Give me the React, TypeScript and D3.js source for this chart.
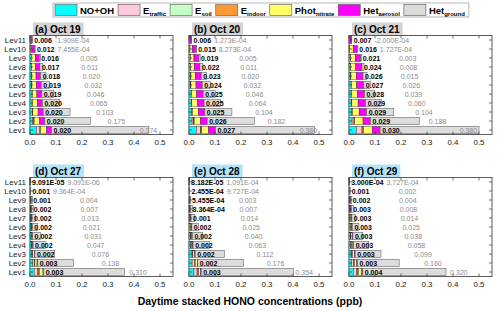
import React, { useRef, useEffect } from 'react'
import * as d3 from 'd3'

// levels, bottom (Lev1) to top (Lev11)
const levels = ['Lev1', 'Lev2', 'Lev3', 'Lev4', 'Lev5', 'Lev6', 'Lev7', 'Lev8', 'Lev9', 'Lev10', 'Lev11']
const panelTitles = ['(a) Oct 19', '(b) Oct 20', '(c) Oct 21', '(d) Oct 27', '(e) Oct 28', '(f)  Oct 29']
const xTicks = [0, 0.1, 0.2, 0.3, 0.4, 0.5]

const keys = ['noOh', 'eTraffic', 'eSoil', 'eIndoor', 'photNitrate', 'hetAerosol', 'hetGround']
const colors = ['#00ffff', '#ffc8dc', '#c4ffc4', '#ff9933', '#ffff66', '#ff00ff', '#dcdcdc']

// one row per panel, Lev1..Lev11
const noOh = [
  [0.024, 0.010, 0.009, 0.008, 0.008, 0.007, 0.007, 0.006, 0.006, 0.002, 0.001],
  [0.028, 0.012, 0.010, 0.009, 0.008, 0.007, 0.007, 0.006, 0.005, 0.004, 0.001],
  [0.028, 0.012, 0.010, 0.009, 0.008, 0.008, 0.007, 0.006, 0.006, 0.003, 0.001],
  [0.016, 0.010, 0.007, 0.005, 0.004, 0.004, 0.0035, 0.003, 0.0025, 0.0007, 0.0001],
  [0.019, 0.012, 0.009, 0.007, 0.006, 0.005, 0.004, 0.003, 0.002, 0.0007, 0.0002],
  [0.017, 0.010, 0.008, 0.007, 0.006, 0.005, 0.004, 0.0035, 0.003, 0.001, 0.0002]
]
const eTraffic = [
  [0.014, 0.004, 0.001, 0.0005, 0.0003, 0.0002, 0.0001, 0.0001, 0, 0, 0],
  [0.017, 0.006, 0.002, 0.001, 0.0005, 0.0003, 0.0002, 0.0001, 0.0001, 0, 0],
  [0.022, 0.007, 0.002, 0.001, 0.0005, 0.0003, 0.0002, 0.0001, 0.0001, 0, 0],
  [0.014, 0.006, 0.002, 0.001, 0.0005, 0.0003, 0.0002, 0.0001, 0.0001, 0, 0],
  [0.012, 0.008, 0.004, 0.001, 0.0005, 0.0003, 0.0002, 0.0001, 0.0001, 0, 0],
  [0.013, 0.007, 0.003, 0.001, 0.0005, 0.0003, 0.0002, 0.0001, 0.0001, 0, 0]
]
const eSoil = [
  [0.001, 0.0005, 0.0003, 0.0002, 0.0001, 0.0001, 0, 0, 0, 0, 0],
  [0.001, 0.0005, 0.0003, 0.0002, 0.0001, 0.0001, 0, 0, 0, 0, 0],
  [0.002, 0.001, 0.0005, 0.0003, 0.0002, 0.0001, 0.0001, 0, 0, 0, 0],
  [0.002, 0.001, 0.0005, 0.0003, 0.0002, 0.0001, 0.0001, 0, 0, 0, 0],
  [0.002, 0.001, 0.0007, 0.0003, 0.0002, 0.0001, 0.0001, 0, 0, 0, 0],
  [0.002, 0.001, 0.0006, 0.0003, 0.0002, 0.0001, 0.0001, 0, 0, 0, 0]
]
const eIndoor = [
  [0.002, 0.0015, 0.0007, 0.0003, 0.0002, 0.0001, 0.0001, 0, 0, 0, 0],
  [0.003, 0.0015, 0.0007, 0.0003, 0.0002, 0.0001, 0.0001, 0, 0, 0, 0],
  [0.004, 0.002, 0.0005, 0.0007, 0.0003, 0.0002, 0.0001, 0.0001, 0, 0, 0],
  [0.004, 0.002, 0.001, 0.0007, 0.0003, 0.0002, 0.0001, 0.0001, 0, 0, 0],
  [0.004, 0.003, 0.0013, 0.0007, 0.0003, 0.0002, 0.0001, 0.0001, 0, 0, 0],
  [0.004, 0.003, 0.0014, 0.0007, 0.0003, 0.0002, 0.0001, 0.0001, 0, 0, 0]
]
const photNitrate = [
  [0.022, 0.021, 0.020, 0.019, 0.018, 0.017, 0.016, 0.015, 0.014, 0.005, 0.002],
  [0.026, 0.024, 0.023, 0.0225, 0.021, 0.0195, 0.0167, 0.014, 0.014, 0.009, 0.003],
  [0.034, 0.032, 0.026, 0.024, 0.023, 0.0214, 0.0206, 0.0198, 0.018, 0.013, 0.003],
  [0.014, 0.008, 0.0065, 0.003, 0.003, 0.0024, 0.0021, 0.0018, 0.0014, 0.0003, 0.0001],
  [0.007, 0.008, 0.007, 0.005, 0.004, 0.0034, 0.0026, 0.002, 0.0013, 0.0005, 0.0001],
  [0.013, 0.009, 0.008, 0.006, 0.005, 0.0044, 0.0036, 0.0023, 0.0019, 0.001, 0.0001]
]
const hetAerosol = [
  [0.020, 0.020, 0.020, 0.020, 0.019, 0.019, 0.018, 0.017, 0.016, 0.012, 0.006],
  [0.027, 0.026, 0.025, 0.025, 0.025, 0.024, 0.023, 0.022, 0.019, 0.015, 0.006],
  [0.030, 0.029, 0.029, 0.029, 0.028, 0.027, 0.026, 0.024, 0.021, 0.016, 0.007],
  [0.003, 0.003, 0.002, 0.002, 0.002, 0.002, 0.002, 0.002, 0.001, 0.001, 9.091e-5],
  [0.003, 0.002, 0.002, 0.002, 0.002, 0.002, 0.001, 8.364e-4, 5.455e-4, 2.455e-4, 8.182e-5],
  [0.004, 0.003, 0.003, 0.003, 0.003, 0.003, 0.003, 0.003, 0.002, 0.001, 3.000e-4]
]
const hetGround = [
  [0.374, 0.175, 0.103, 0.065, 0.046, 0.032, 0.020, 0.011, 0.005, 7.455e-4, -1.909e-4],
  [0.380, 0.182, 0.104, 0.064, 0.046, 0.032, 0.020, 0.011, 0.005, 8.273e-4, 1.273e-4],
  [0.380, 0.188, 0.104, 0.060, 0.039, 0.026, 0.015, 0.008, 0.003, 1.727e-4, -2.000e-4],
  [0.310, 0.138, 0.076, 0.047, 0.031, 0.021, 0.013, 0.007, 0.004, 9.364e-4, 9.091e-6],
  [0.354, 0.176, 0.112, 0.063, 0.040, 0.025, 0.014, 0.007, 0.003, 9.727e-4, 1.091e-4],
  [0.320, 0.160, 0.099, 0.058, 0.038, 0.025, 0.014, 0.008, 0.004, 0.002, 3.727e-4]
]

const legendItems = [
  { main: 'NO+OH', sub: '' },
  { main: 'E', sub: 'traffic' },
  { main: 'E', sub: 'soil' },
  { main: 'E', sub: 'indoor' },
  { main: 'Phot', sub: 'nitrate' },
  { main: 'Het', sub: 'aerosol' },
  { main: 'Het', sub: 'ground' }
]

const font = 'Liberation Sans, Arial, sans-serif'

// 9.091e-5 -> 9.091E-05
const fmt = (v: number) => {
  if (v === 0) return '0.000'
  if (Math.abs(v) >= 0.001) return v.toFixed(3)
  const [m, e] = v.toExponential(3).split('e')
  const n = Math.abs(+e)
  return m + 'E' + (+e < 0 ? '-' : '+') + (n < 10 ? '0' + n : '' + n)
}

function App() {
  const ref = useRef<SVGSVGElement>(null)

  useEffect(() => {
    const svg = d3.select(ref.current)
    svg.selectAll('*').remove()

    const colLeft = [30, 189, 349]
    const rowTop = [35.5, 177.5]
    const pw = 143, ph = 99

    // legend
    const lg = svg.append('g').attr('font-family', font).attr('font-weight', 'bold')
    let lx = 55
    const ly = 4.5
    legendItems.forEach((it, i) => {
      lg.append('rect').attr('x', lx).attr('y', ly).attr('width', 22).attr('height', 11)
        .attr('fill', colors[i]).attr('stroke', '#555').attr('stroke-width', 0.6)
      lx += 25
      const t = lg.append('text').attr('x', lx).attr('y', ly + 9.5).attr('font-size', 9.5).text(it.main)
      if (it.sub) t.append('tspan').attr('font-size', 6).attr('dy', 2).text(it.sub)
      const w = (t.node() as SVGTextElement).getComputedTextLength()
      lx += w + 4
    })
    lg.insert('rect', ':first-child').attr('x', 53).attr('y', 3).attr('width', lx - 53).attr('height', 14)
      .attr('fill', 'white').attr('stroke', '#999').attr('stroke-width', 0.7)

    for (let p = 0; p < 6; p++) {
      const col = p % 3, row = Math.floor(p / 3)
      const g = svg.append('g')
        .attr('transform', `translate(${colLeft[col]},${rowTop[row]})`)
        .attr('font-family', font)

      const x = d3.scaleLinear().domain([0, 0.55]).range([0, pw])
      const y = d3.scaleBand().domain(levels.slice().reverse()).range([0, ph]).paddingInner(0.2).paddingOuter(0.1)

      const rows = levels.map((lev, i) => ({
        level: lev,
        noOh: noOh[p][i], eTraffic: eTraffic[p][i], eSoil: eSoil[p][i], eIndoor: eIndoor[p][i],
        photNitrate: photNitrate[p][i], hetAerosol: hetAerosol[p][i], hetGround: hetGround[p][i]
      }))
      const series = d3.stack<any>().keys(keys).offset(d3.stackOffsetDiverging)(rows)

      // title box
      const title = g.append('g')
      const tt = title.append('text').attr('x', 5).attr('y', -3).attr('font-size', 10)
        .attr('font-weight', 'bold').text(panelTitles[p])
      const tw = (tt.node() as SVGTextElement).getComputedTextLength()
      title.insert('rect', ':first-child').attr('x', 3).attr('y', -13).attr('width', tw + 5).attr('height', 13)
        .attr('fill', row === 0 ? '#d3d3d3' : '#b3e3fa')

      // frame
      g.append('rect').attr('width', pw).attr('height', ph).attr('fill', 'white')
        .attr('stroke', '#333').attr('stroke-width', 0.8)

      series.forEach((s, k) => {
        g.append('g').selectAll('rect').data(s).join('rect')
          .attr('x', d => x(Math.min(d[0], d[1])))
          .attr('width', d => Math.abs(x(d[1]) - x(d[0])))
          .attr('y', d => y(d.data.level) as number)
          .attr('height', y.bandwidth())
          .attr('fill', colors[k])
          .attr('stroke', k === 6 ? '#666' : '#222')
          .attr('stroke-width', k === 6 ? 0.6 : 0.4)
      })

      // ticks
      const tk = g.append('g').attr('stroke', '#333').attr('stroke-width', 0.7)
      xTicks.forEach(t => {
        tk.append('line').attr('x1', x(t)).attr('x2', x(t)).attr('y1', ph).attr('y2', ph - 3)
        tk.append('line').attr('x1', x(t)).attr('x2', x(t)).attr('y1', 0).attr('y2', 3)
      })
      levels.forEach(l => {
        const c = (y(l) as number) + y.bandwidth() / 2
        tk.append('line').attr('x1', 0).attr('x2', 3).attr('y1', c).attr('y2', c)
        tk.append('line').attr('x1', pw).attr('x2', pw - 3).attr('y1', c).attr('y2', c)
      })

      g.append('g').selectAll('text').data(xTicks).join('text')
        .attr('x', d => x(d)).attr('y', ph + 10).attr('text-anchor', 'middle')
        .attr('font-size', 8).attr('fill', '#222').text(d => d3.format('.1f')(d))

      if (col === 0) {
        g.append('g').selectAll('text').data(levels).join('text')
          .attr('x', -4).attr('y', d => (y(d) as number) + y.bandwidth() / 2 + 3)
          .attr('text-anchor', 'end').attr('font-size', 8).attr('fill', '#222').text(d => d)
      }

      // value labels
      rows.forEach((r, i) => {
        const cy = (y(r.level) as number) + y.bandwidth() / 2 + 2.5
        const colored = series[5][i][1]
        const bl = g.append('text').attr('x', x(Math.max(colored, 0)) + 2).attr('y', cy)
          .attr('font-size', 7).attr('font-weight', 'bold').attr('fill', '#000').text(fmt(r.hetAerosol))
        const bEnd = x(Math.max(colored, 0)) + 2 + (bl.node() as SVGTextElement).getComputedTextLength()
        const v = r.hetGround
        const gx = Math.abs(v) < 0.001 ? bEnd + 3 : x(0.19 + 0.62 * v)
        g.append('text').attr('x', gx).attr('y', cy).attr('font-size', 7)
          .attr('fill', '#8c8c8c').text(fmt(v))
      })
    }

    svg.append('text').attr('x', 250).attr('y', 305).attr('text-anchor', 'middle')
      .attr('font-family', font).attr('font-weight', 'bold').attr('font-size', 10.5)
      .text('Daytime stacked HONO concentrations (ppb)')
  }, [])

  return (
    <svg ref={ref} width={500} height={311}
      style={{ position: 'absolute', left: 0, top: 0, background: '#fff' }} />
  )
}

export default App
